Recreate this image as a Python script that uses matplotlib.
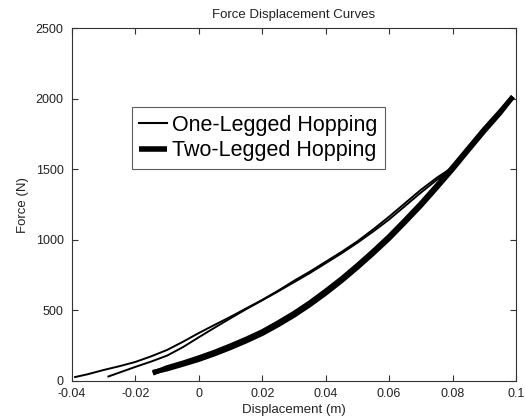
import matplotlib.pyplot as plt
import numpy as np

plt.rcParams['font.family'] = ['Liberation Sans', 'DejaVu Sans']

# one-legged hopping: two branches of the loop
one_x_a = [-0.039, -0.035, -0.03, -0.025, -0.02, -0.015, -0.01, -0.005, 0.0,
           0.005, 0.01, 0.015, 0.02, 0.025, 0.03, 0.035, 0.04, 0.045, 0.05,
           0.055, 0.06, 0.065, 0.07, 0.075, 0.08]
one_f_a = [28, 48, 78, 105, 135, 175, 220, 278, 340,
           398, 455, 515, 575, 640, 710, 775, 845, 915, 990,
           1075, 1165, 1260, 1355, 1440, 1515]
one_x_b = [-0.0285, -0.025, -0.02, -0.015, -0.01, -0.005, 0.0,
           0.005, 0.01, 0.015, 0.02, 0.025, 0.03, 0.035, 0.04, 0.045, 0.05,
           0.055, 0.06, 0.065, 0.07, 0.075, 0.08]
one_f_b = [32, 60, 100, 138, 180, 240, 310,
           378, 445, 510, 572, 635, 700, 765, 835, 905, 980,
           1060, 1145, 1240, 1335, 1425, 1505]

# two-legged hopping: loading and unloading, almost on top of each other
two_x = [-0.0145, -0.01, -0.005, 0.0, 0.005, 0.01, 0.015, 0.02, 0.025, 0.03,
         0.035, 0.04, 0.045, 0.05, 0.055, 0.06, 0.065, 0.07, 0.075, 0.08,
         0.085, 0.09, 0.095, 0.099]
two_f_up = [55, 95, 128, 165, 205, 250, 298, 350, 413, 480,
            555, 638, 725, 820, 920, 1025, 1140, 1258, 1385, 1515,
            1650, 1785, 1910, 2015]
two_f_down = [62, 85, 118, 152, 192, 236, 284, 336, 398, 465,
              540, 622, 710, 805, 905, 1010, 1125, 1243, 1370, 1500,
              1637, 1772, 1900, 2015]

fig = plt.figure(figsize=(5.25, 4.19), dpi=100)
ax = fig.add_axes([0.137, 0.0907, 0.846, 0.842])

l1, = ax.plot(one_x_a, one_f_a, color='black', lw=1.4)
ax.plot(one_x_b, one_f_b, color='black', lw=1.4)
l2, = ax.plot(two_x, two_f_up, color='black', lw=3.5, solid_capstyle='butt')
ax.plot(two_x, two_f_down, color='black', lw=3.5, solid_capstyle='butt')

ax.set_xlim(-0.04, 0.1)
ax.set_ylim(0, 2500)
ax.set_xticks([-0.04, -0.02, 0, 0.02, 0.04, 0.06, 0.08, 0.1])
ax.set_xticklabels(['-0.04', '-0.02', '0', '0.02', '0.04', '0.06', '0.08', '0.1'])
ax.set_yticks([0, 500, 1000, 1500, 2000, 2500])
ax.tick_params(direction='in', top=True, right=True, length=4, labelsize=9,
               color='#333333', labelcolor='#222222')
ax.tick_params(axis='x', pad=5)
ax.tick_params(axis='y', pad=6)
for s in ax.spines.values():
    s.set_color('#333333')

ax.set_title('Force Displacement Curves', fontsize=9.5, color='#222222', pad=7)
ax.set_xlabel('Displacement (m)', fontsize=9.5, color='#222222', labelpad=3)
ax.set_ylabel('Force (N)', fontsize=9.5, color='#222222', labelpad=5)

leg = ax.legend([l1, l2], ['One-Legged Hopping', 'Two-Legged Hopping'],
                loc='upper left', bbox_to_anchor=(0.135, 0.776), borderaxespad=0,
                fontsize=15.5, frameon=True, fancybox=False, handlelength=1.3,
                handletextpad=0.2, borderpad=0.35, labelspacing=0.2)
leg.get_frame().set_edgecolor('#333333')
leg.get_frame().set_linewidth(0.8)
leg.get_lines()[0].set_linewidth(1.5)
leg.get_lines()[1].set_linewidth(4)

fig.savefig('out.png', dpi=100)
